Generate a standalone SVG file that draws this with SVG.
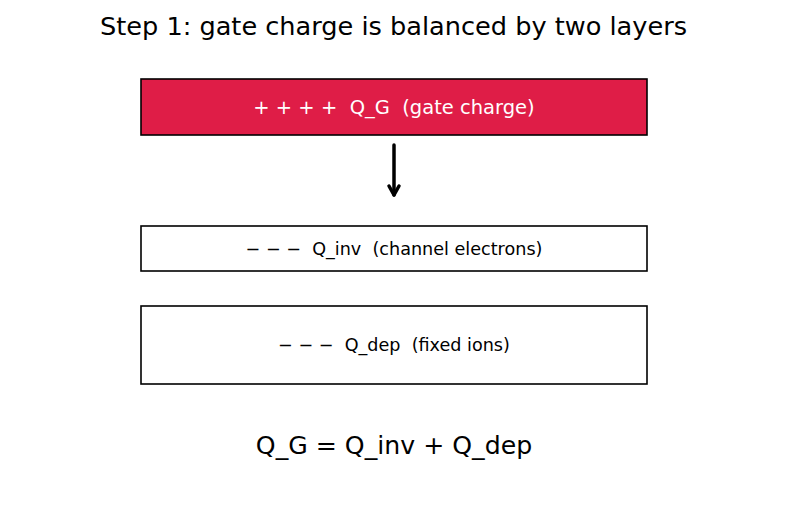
<svg xmlns="http://www.w3.org/2000/svg" width="787" height="512" viewBox="0 0 787 512">
<style>
text{font-family:"DejaVu Sans","Liberation Sans",sans-serif;text-anchor:middle;dominant-baseline:central;white-space:pre}
.box{stroke:#000;stroke-width:1.6}
.arr{fill:none;stroke:#000;stroke-width:3.5;stroke-linecap:round;stroke-linejoin:round}
</style>
<rect width="787" height="512" fill="#fff"/>
<text x="393.5" y="26" font-size="25.6" xml:space="preserve">Step 1: gate charge is balanced by two layers</text>
<g id="gate">
<rect class="box" x="141" y="79" width="506" height="56" fill="#DF1D47"/>
<text x="394" y="107" font-size="19.5" fill="#fff" xml:space="preserve">+ + + +  Q_G  (gate charge)</text>
</g>
<g id="connectors">
<path class="arr" d="M394,145 L394,195"/>
<path class="arr" d="M389,186 L394,195 L399,186"/>
</g>
<g id="inv">
<rect class="box" x="141" y="226" width="506" height="45" fill="#fff"/>
<text x="394" y="249" font-size="17.6" xml:space="preserve">− − −  Q_inv  (channel electrons)</text>
</g>
<g id="dep">
<rect class="box" x="141" y="306" width="506" height="78" fill="#fff"/>
<text x="394" y="345" font-size="17.6" xml:space="preserve">− − −  Q_dep  (fixed ions)</text>
</g>
<text x="394" y="445" font-size="25.2">Q_G = Q_inv + Q_dep</text>
</svg>
